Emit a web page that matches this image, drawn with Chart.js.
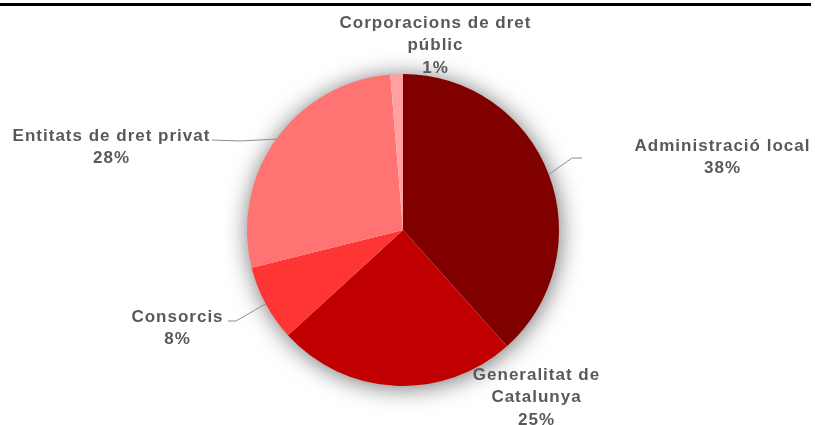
<!DOCTYPE html>
<html>
<head>
<meta charset="utf-8">
<script src="https://cdn.jsdelivr.net/npm/chart.js@4.4.0/dist/chart.umd.min.js"></script>
<style>
  html, body { margin: 0; padding: 0; background: #fff; }
  .chart-wrapper { position: relative; width: 815px; height: 425px; }
  .top-rule { position: absolute; left: 0; top: 3px; width: 811px; height: 3px; background: #000; }
</style>
</head>
<body>
<div class="chart-wrapper">
  <div class="top-rule"></div>
  <canvas id="pie" width="815" height="425"></canvas>
</div>
<script>
// Data
const categories = ['Administració local', 'Generalitat de Catalunya', 'Consorcis', 'Entitats de dret privat', 'Corporacions de dret públic'];
const shares     = [38.4, 24.8, 7.9, 27.6, 1.3];
const sliceColors = ['#800000', '#C00000', '#FF3535', '#FF7373', '#FFA1A1'];

// Label text lines (wrapped as in the original)
const labelLines = [
  ['Administració local'],
  ['Generalitat de', 'Catalunya'],
  ['Consorcis'],
  ['Entitats de dret privat'],
  ['Corporacions de dret', 'públic']
];

// Label placement: centre of text block, and optional leader line elbow
const labelLayout = [
  { x: 722, y: 146, elbow: [572, 158], end: [582, 158] },
  { x: 536, y: 375 },
  { x: 177, y: 317, elbow: [236, 321], end: [228, 321] },
  { x: 111, y: 136, elbow: [240, 141], end: [212, 140] },
  { x: 435, y: 23 }
];

// soft glow under the pie
const pieShadow = {
  id: 'pieShadow',
  beforeDatasetsDraw(chart) {
    const arc = chart.getDatasetMeta(0).data[0];
    if (!arc) return;
    const ctx = chart.ctx;
    ctx.save();
    ctx.shadowColor = 'rgba(0,0,0,0.6)';
    ctx.shadowBlur = 24;
    ctx.shadowOffsetX = 1;
    ctx.shadowOffsetY = 2;
    ctx.fillStyle = '#fff';
    ctx.beginPath();
    ctx.arc(arc.x, arc.y, arc.outerRadius - 1, 0, Math.PI * 2);
    ctx.fill();
    ctx.restore();
  }
};

// labels + leader lines
const sliceLabels = {
  id: 'sliceLabels',
  afterDatasetsDraw(chart) {
    const ctx = chart.ctx;
    const total = shares.reduce((a, b) => a + b, 0);
    const meta = chart.getDatasetMeta(0);
    const spacing = 1;
    ctx.save();
    meta.data.forEach((arc, i) => {
      const lay = labelLayout[i];
      const mid = (arc.startAngle + arc.endAngle) / 2;

      if (lay.elbow) {
        const ex = arc.x + Math.cos(mid) * arc.outerRadius;
        const ey = arc.y + Math.sin(mid) * arc.outerRadius;
        ctx.strokeStyle = '#8c8c8c';
        ctx.lineWidth = 1;
        ctx.beginPath();
        ctx.moveTo(ex, ey);
        ctx.lineTo(lay.elbow[0], lay.elbow[1]);
        ctx.lineTo(lay.end[0], lay.end[1]);
        ctx.stroke();
      }

      const lines = labelLines[i].concat([Math.round(shares[i] / total * 100) + '%']);
      ctx.fillStyle = '#595959';
      ctx.font = "bold 17px 'Liberation Sans', Arial, sans-serif";
      ctx.letterSpacing = spacing + 'px';
      ctx.textAlign = 'center';
      ctx.textBaseline = 'middle';
      lines.forEach((t, k) => ctx.fillText(t, lay.x + spacing / 2, lay.y + k * 22.5));
    });
    ctx.restore();
  }
};

new Chart(document.getElementById('pie'), {
  type: 'pie',
  data: {
    labels: categories,
    datasets: [{
      data: shares,
      backgroundColor: sliceColors,
      borderWidth: 0
    }]
  },
  options: {
    responsive: false,
    animation: false,
    layout: { padding: { top: 74, bottom: 39, left: 247, right: 256 } },
    plugins: {
      legend: { display: false },
      tooltip: { enabled: false }
    }
  },
  plugins: [pieShadow, sliceLabels]
});
</script>
</body>
</html>
